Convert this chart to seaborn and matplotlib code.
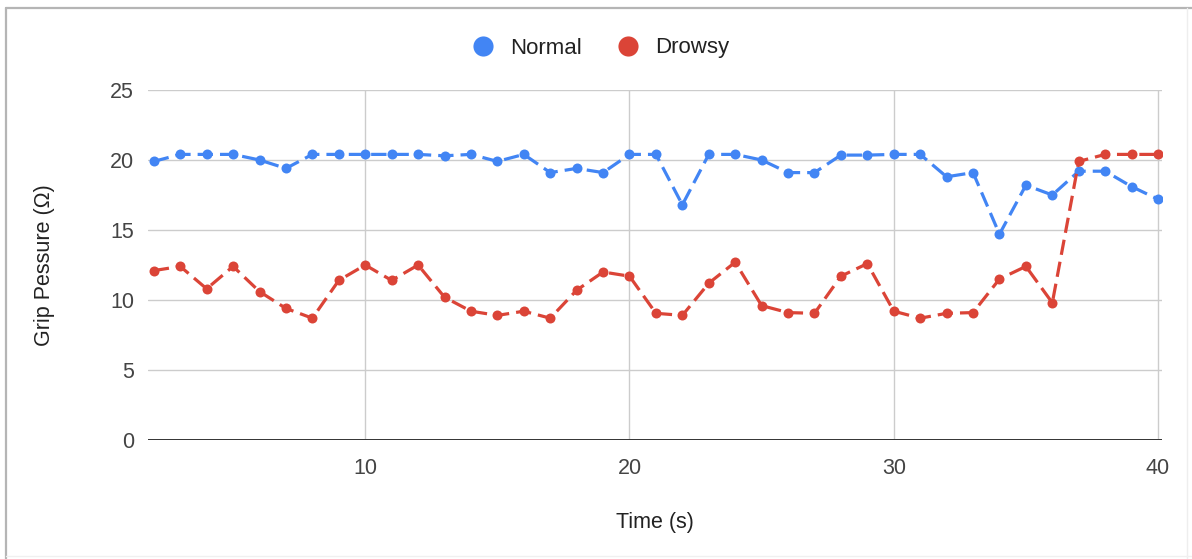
import numpy as np
import pandas as pd
import seaborn as sns
import matplotlib
matplotlib.use("Agg")
import matplotlib.pyplot as plt
from matplotlib.lines import Line2D

# Time axis (seconds)
time_s = list(range(2, 41))

# Grip pressure readings
normal = [19.9, 20.4, 20.4, 20.4, 20.0, 19.4, 20.4, 20.4, 20.4, 20.4, 20.4, 20.3, 20.4,
          19.9, 20.4, 19.1, 19.4, 19.1, 20.4, 20.4, 16.8, 20.4, 20.4, 20.0, 19.1, 19.1,
          20.35, 20.35, 20.4, 20.4, 18.8, 19.1, 14.7, 18.2, 17.5, 19.2, 19.2, 18.1, 17.2]
drowsy = [12.1, 12.4, 10.8, 12.4, 10.6, 9.4, 8.7, 11.4, 12.5, 11.4, 12.5, 10.2, 9.2,
          8.9, 9.2, 8.7, 10.7, 12.0, 11.7, 9.05, 8.9, 11.2, 12.7, 9.6, 9.1, 9.05,
          11.7, 12.6, 9.2, 8.7, 9.05, 9.1, 11.5, 12.4, 9.8, 19.9, 20.4, 20.4, 20.4]

series_names = ["Normal", "Drowsy"]
series_colors = ["#4285F4", "#DB4437"]
y_ticks = [0, 5, 10, 15, 20, 25]
x_ticks = [10, 20, 30, 40]

df = pd.DataFrame({
    "Time (s)": time_s * 2,
    "value": normal + drowsy,
    "series": [series_names[0]] * len(time_s) + [series_names[1]] * len(time_s),
})

sns.set_theme(style="white")
plt.rcParams["font.family"] = ["Liberation Sans", "DejaVu Sans"]

FS = 15.5
W, H = 1192, 559
fig = plt.figure(figsize=(W / 100, H / 100), dpi=100)
fig.patch.set_facecolor("white")
ax = fig.add_axes([148 / W, 1 - 440 / H, (1162 - 148) / W, (440 - 90) / H])

sns.lineplot(data=df, x="Time (s)", y="value", hue="series",
             palette=dict(zip(series_names, series_colors)),
             marker="o", markersize=7.2, markeredgewidth=0,
             linewidth=2.3, legend=False, ax=ax, zorder=3)
for line in ax.get_lines():
    line.set_dashes((4.8, 2.2))
    line.set_dash_capstyle("butt")

ax.set_xlim(1.78, 40.15)
ax.set_ylim(0, 25)
ax.set_yticks(y_ticks)
ax.set_xticks(x_ticks)
ax.grid(True, color="#cccccc", linewidth=1.0)
ax.set_axisbelow(True)
for sp in ax.spines.values():
    sp.set_visible(False)
ax.axhline(0, color="#333333", linewidth=1.4, zorder=2)
ax.tick_params(axis="both", length=0, labelsize=FS, labelcolor="#444444")
ax.tick_params(axis="y", pad=10)
ax.tick_params(axis="x", pad=13)

ax.set_xlabel("Time (s)", fontsize=FS, color="#222222")
ax.set_ylabel("Grip Pessure (Ω)", fontsize=FS, color="#222222")
ax.xaxis.set_label_coords(0.5, (440 - 512) / 350)
ax.yaxis.set_label_coords((55 - 148) / 1014, 0.5)

handles = [Line2D([], [], linestyle="none", marker="o", markersize=14.5,
                  markerfacecolor=c, markeredgewidth=0) for c in series_colors]
fig.legend(handles, series_names, loc="center", bbox_to_anchor=(0.503, 1 - 48 / H),
           ncol=2, frameon=False, fontsize=FS + 0.5, handletextpad=0.6,
           columnspacing=1.5, labelcolor="#222222", handlelength=1.2)

# Frame around the chart
fig.add_artist(Line2D([6 / W, 6 / W], [0, 1 - 8 / H], transform=fig.transFigure,
                      color="#b5b5b5", linewidth=1.6))
fig.add_artist(Line2D([6 / W, 1], [1 - 8 / H, 1 - 8 / H], transform=fig.transFigure,
                      color="#b5b5b5", linewidth=1.6))
fig.add_artist(Line2D([1187 / W, 1187 / W], [0, 1 - 8 / H], transform=fig.transFigure,
                      color="#eeeeee", linewidth=1.0))
fig.add_artist(Line2D([6 / W, 1], [3 / H, 3 / H], transform=fig.transFigure,
                      color="#f0f0f0", linewidth=1.0))

fig.savefig("out.png", dpi=100, facecolor="white")
